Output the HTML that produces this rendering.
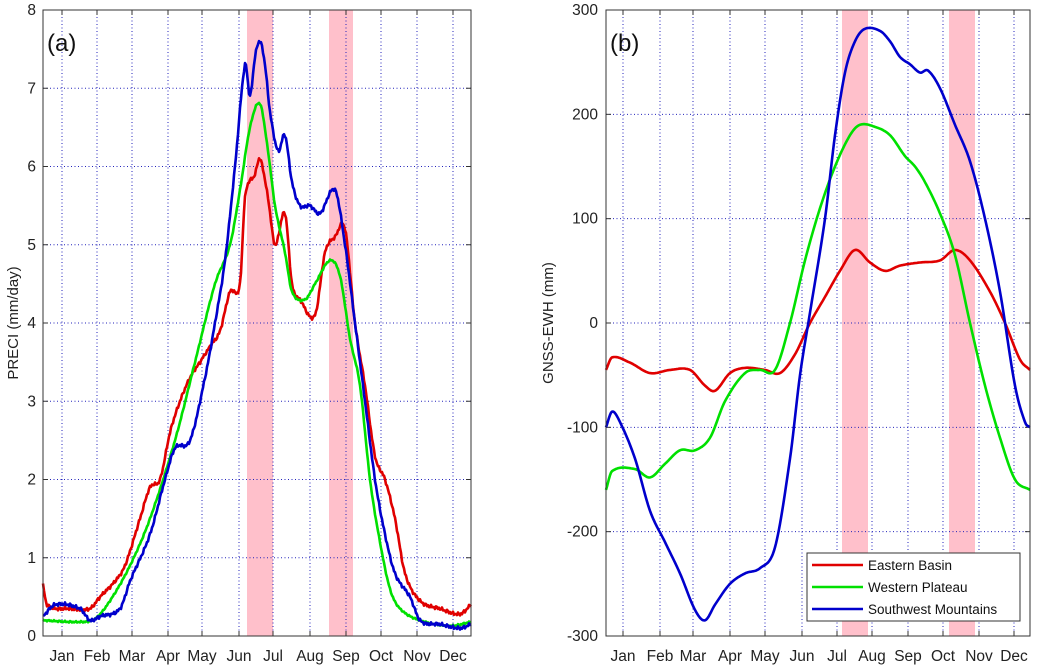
<!DOCTYPE html>
<html><head><meta charset="utf-8"><style>
html,body{margin:0;padding:0;background:#fff;}
svg{display:block;font-family:"Liberation Sans",sans-serif;}
</style></head><body>
<svg id="s" width="1039" height="668" viewBox="0 0 1039 668" xmlns="http://www.w3.org/2000/svg">
<rect width="1039" height="668" fill="#fff"/>
<rect x="247" y="10" width="26" height="626" fill="#ffc0cb"/>
<rect x="329" y="10" width="24" height="626" fill="#ffc0cb"/>
<rect x="842" y="10" width="26" height="626" fill="#ffc0cb"/>
<rect x="949" y="10" width="26" height="626" fill="#ffc0cb"/>
<g id="grid" stroke="#2222bb" stroke-width="1" stroke-dasharray="1,2.5"></g>
<g id="ticks" stroke="#333" stroke-width="1"></g>
<g id="lines" fill="none" stroke-width="2.6" stroke-linejoin="round"></g>
<rect x="43" y="10" width="428" height="626" fill="none" stroke="#333" stroke-width="1"/>
<rect x="606" y="10" width="424" height="626" fill="none" stroke="#333" stroke-width="1"/>
<g id="labels" font-size="15.5" fill="#222"></g>
<text x="47" y="51" font-size="24" fill="#111">(a)</text>
<text x="610" y="51" font-size="24" fill="#111">(b)</text>
<text transform="translate(18,323) rotate(-90)" text-anchor="middle" font-size="15" fill="#222">PRECI (mm/day)</text>
<text transform="translate(553,323) rotate(-90)" text-anchor="middle" font-size="15" fill="#222">GNSS-EWH (mm)</text>
<rect x="807" y="553" width="213" height="68" fill="#fff" stroke="#333" stroke-width="1"/>
<line x1="812" y1="565" x2="863" y2="565" stroke="#e00000" stroke-width="2.6"/>
<line x1="812" y1="587" x2="863" y2="587" stroke="#00e000" stroke-width="2.6"/>
<line x1="812" y1="609" x2="863" y2="609" stroke="#0000cc" stroke-width="2.6"/>
<text x="868" y="570" font-size="13.5" fill="#111">Eastern Basin</text>
<text x="868" y="592" font-size="13.5" fill="#111">Western Plateau</text>
<text x="868" y="614" font-size="13.5" fill="#111">Southwest Mountains</text>
</svg>
<script>
var NS="http://www.w3.org/2000/svg";
function el(p,t,a,txt){var e=document.createElementNS(NS,t);for(var k in a)e.setAttribute(k,a[k]);if(txt!==undefined)e.textContent=txt;document.getElementById(p).appendChild(e);return e;}
var months=["Jan","Feb","Mar","Apr","May","Jun","Jul","Aug","Sep","Oct","Nov","Dec"];
var lx=[62,97,132,168,202,239,273,310,346,381,417,453];
var rx=[623,660,693,730,765,802,837,872,908,943,979,1014];
for(var i=0;i<12;i++){
 el("grid","line",{x1:lx[i],y1:10,x2:lx[i],y2:636});
 el("grid","line",{x1:rx[i],y1:10,x2:rx[i],y2:636});
 el("ticks","line",{x1:lx[i],y1:636,x2:lx[i],y2:631});el("ticks","line",{x1:lx[i],y1:10,x2:lx[i],y2:15});
 el("ticks","line",{x1:rx[i],y1:636,x2:rx[i],y2:631});el("ticks","line",{x1:rx[i],y1:10,x2:rx[i],y2:15});
 el("labels","text",{x:lx[i],y:661,"text-anchor":"middle"},months[i]);
 el("labels","text",{x:rx[i],y:661,"text-anchor":"middle"},months[i]);
}
function ly(v){return 636-v*78.25;}
for(var v=0;v<=8;v++){var y=ly(v);
 if(v>0&&v<8)el("grid","line",{x1:43,y1:y,x2:471,y2:y});
 el("ticks","line",{x1:43,y1:y,x2:48,y2:y});el("ticks","line",{x1:471,y1:y,x2:466,y2:y});
 el("labels","text",{x:36,y:y+5,"text-anchor":"end"},String(v));}
function ry(v){return 323-v*1.0433;}
for(var v=-300;v<=300;v+=100){var y=ry(v);
 if(v>-300&&v<300)el("grid","line",{x1:606,y1:y,x2:1030,y2:y});
 el("ticks","line",{x1:606,y1:y,x2:611,y2:y});el("ticks","line",{x1:1030,y1:y,x2:1025,y2:y});
 el("labels","text",{x:598,y:y+5,"text-anchor":"end"},String(v));}
function line(pts,f,col,jit){var s="";var n=pts.length;
 for(var i=0;i<n-1;i++){var p0=pts[Math.max(0,i-1)],p1=pts[i],p2=pts[i+1],p3=pts[Math.min(n-1,i+2)];
  var m1=(p2[1]-p0[1])/(p2[0]-p0[0])*(p2[0]-p1[0]),m2=(p3[1]-p1[1])/(p3[0]-p1[0])*(p2[0]-p1[0]);
  for(var x=p1[0];x<p2[0];x+=1){var t=(x-p1[0])/(p2[0]-p1[0]);var t2=t*t,t3=t2*t;
   var v=(2*t3-3*t2+1)*p1[1]+(t3-2*t2+t)*m1+(-2*t3+3*t2)*p2[1]+(t3-t2)*m2;
   var y=f(v)+(jit?Math.sin(x*2.3)*jit+Math.sin(x*5.1)*jit*0.6:0);s+=x+","+y.toFixed(1)+" ";}}
 var l=pts[n-1];s+=l[0]+","+f(l[1]).toFixed(1);
 el("lines","polyline",{points:s,stroke:col});}
var rR=[[43,0.65],[47,0.4],[70,0.35],[90,0.35],[100,0.5],[115,0.7],[125,0.9],[140,1.5],[150,1.9],[160,2.0],[170,2.6],[180,3.0],[190,3.3],[200,3.5],[210,3.7],[220,3.9],[230,4.4],[240,4.5],[245,5.6],[255,5.9],[260,6.1],[268,5.6],[275,5.0],[285,5.4],[292,4.5],[300,4.3],[315,4.1],[325,4.9],[335,5.1],[345,5.2],[355,4.0],[365,3.2],[375,2.3],[385,2.0],[395,1.5],[405,0.8],[420,0.45],[440,0.35],[460,0.28],[471,0.4]];
var rG=[[43,0.2],[80,0.18],[95,0.22],[110,0.45],[130,0.9],[150,1.5],[175,2.5],[195,3.5],[215,4.5],[230,5.0],[240,5.7],[250,6.5],[260,6.8],[268,6.2],[275,5.5],[285,4.9],[292,4.4],[305,4.3],[315,4.5],[330,4.8],[340,4.6],[350,3.8],[360,3.2],[370,2.0],[380,1.2],[390,0.6],[400,0.35],[420,0.2],[450,0.13],[471,0.18]];
var rB=[[43,0.25],[55,0.4],[80,0.35],[90,0.2],[100,0.25],[120,0.35],[130,0.7],[150,1.3],[165,2.0],[175,2.4],[190,2.5],[205,3.3],[215,4.0],[225,4.8],[235,6.0],[245,7.3],[250,6.9],[255,7.4],[260,7.6],[265,7.3],[270,6.7],[278,6.2],[285,6.4],[292,5.8],[300,5.5],[310,5.5],[320,5.4],[335,5.7],[345,5.0],[355,4.0],[365,3.0],[375,2.0],[385,1.3],[395,0.8],[410,0.5],[420,0.2],[440,0.15],[460,0.1],[471,0.15]];
line(rR,ly,"#e00000",1.2);line(rG,ly,"#00e000",0.6);line(rB,ly,"#0000cc",1.2);
var gR=[[606,-45],[612,-33],[630,-38],[650,-48],[670,-45],[690,-45],[705,-60],[715,-65],[730,-48],[745,-43],[765,-45],[780,-48],[795,-30],[810,0],[825,25],[840,50],[855,70],[870,58],[885,50],[900,55],[920,58],[940,60],[955,70],[970,60],[990,30],[1005,0],[1020,-35],[1030,-45]];
var gG=[[606,-160],[612,-142],[635,-140],[650,-148],[665,-135],[680,-122],[695,-122],[710,-110],[725,-75],[745,-48],[760,-45],[775,-45],[790,0],[805,60],[820,110],[835,150],[850,180],[860,190],[875,188],[890,180],[905,160],[915,150],[925,135],[940,105],[955,65],[970,0],[985,-60],[1000,-110],[1015,-150],[1030,-160]];
var gB=[[606,-100],[612,-85],[620,-95],[635,-130],[650,-180],[665,-210],[680,-240],[695,-275],[705,-285],[715,-270],[730,-250],[745,-240],[760,-235],[775,-215],[790,-130],[800,-50],[810,10],[825,100],[835,180],[845,240],[855,270],[865,282],[880,280],[890,270],[900,255],[910,248],[920,240],[928,242],[940,225],[955,190],[970,155],[985,100],[1000,30],[1015,-60],[1025,-95],[1030,-100]];
line(gR,ry,"#e00000",0);line(gG,ry,"#00e000",0);line(gB,ry,"#0000cc",0);
</script>
</body></html>
